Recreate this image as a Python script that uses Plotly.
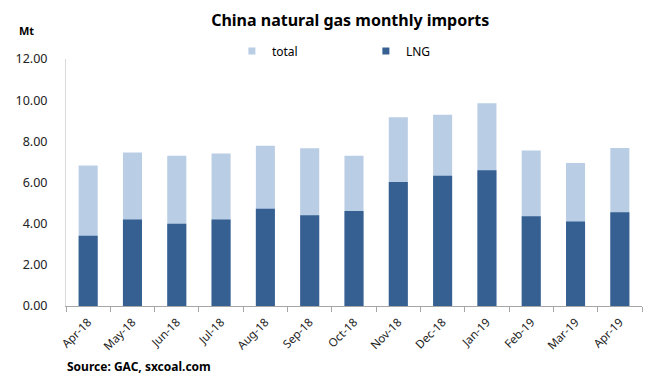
import plotly.graph_objects as go

months = ["Apr-18", "May-18", "Jun-18", "Jul-18", "Aug-18", "Sep-18", "Oct-18",
          "Nov-18", "Dec-18", "Jan-19", "Feb-19", "Mar-19", "Apr-19"]
total = [6.83, 7.46, 7.30, 7.41, 7.78, 7.66, 7.30, 9.17, 9.29, 9.85, 7.56, 6.95, 7.68]
lng = [3.41, 4.20, 3.99, 4.20, 4.72, 4.41, 4.62, 6.02, 6.33, 6.59, 4.36, 4.10, 4.56]
y_ticks = [0, 2, 4, 6, 8, 10, 12]

FONT = "Noto Sans"
LIGHT = "#B9CDE5"
DARK = "#376092"

fig = go.Figure()
fig.add_trace(go.Bar(x=months, y=total, name="total", marker_color=LIGHT,
                     marker_line_width=0, showlegend=False))
fig.add_trace(go.Bar(x=months, y=lng, name="LNG", marker_color=DARK,
                     marker_line_width=0, showlegend=False))
# legend entries with small square markers
fig.add_trace(go.Scatter(x=[None], y=[None], mode="markers", name="total",
                         marker=dict(symbol="square", size=7, color=LIGHT)))
fig.add_trace(go.Scatter(x=[None], y=[None], mode="markers", name="LNG",
                         marker=dict(symbol="square", size=7, color=DARK)))

# the page adds an 8px body margin, so the figure is 8px smaller
fig.update_layout(
    width=662, height=372,
    margin=dict(l=58, r=28, t=51, b=74, autoexpand=False),
    barmode="overlay", bargap=0.57,
    plot_bgcolor="white", paper_bgcolor="white",
    font=dict(family=FONT, size=11, color="#333333"),
    title=dict(text="<b>China natural gas monthly imports</b>", x=0.517, xanchor="center",
               y=0.966, yanchor="middle", font=dict(family=FONT, size=16, color="#000000")),
    legend=dict(orientation="h", x=0.288, y=1.032, xanchor="left", yanchor="middle",
                font=dict(family=FONT, size=12, color="#000000"),
                itemwidth=30, traceorder="normal", entrywidth=89, tracegroupgap=0),
    showlegend=True,
    yaxis=dict(range=[0, 12], tickvals=y_ticks, tickformat=".2f", automargin=False,
               showgrid=False, zeroline=False,
               showline=True, linecolor="#D9D9D9", linewidth=1,
               ticks="", ticklabelstandoff=15,
               tickfont=dict(family=FONT, size=12.5, color="#222222")),
    xaxis=dict(type="category", tickangle=-45, showgrid=False, automargin=False,
               showline=True, linecolor="#A6A6A6", linewidth=1,
               ticks="outside", tickson="boundaries", ticklen=5, tickcolor="#A6A6A6",
               ticklabelstandoff=4,
               tickfont=dict(family=FONT, size=11.5, color="#222222")),
    annotations=[
        dict(text="<b>Mt</b>", xref="paper", yref="paper", x=-0.068, y=1.117,
             xanchor="center", yanchor="middle", showarrow=False,
             font=dict(family=FONT, size=11, color="#000000")),
        dict(text="<b>Source: GAC, sxcoal.com</b>", xref="paper", yref="paper",
             x=-0.002, y=-0.243, xanchor="left", yanchor="middle", showarrow=False,
             font=dict(family=FONT, size=12, color="#000000")),
    ],
)

fig.write_html("out.html")
